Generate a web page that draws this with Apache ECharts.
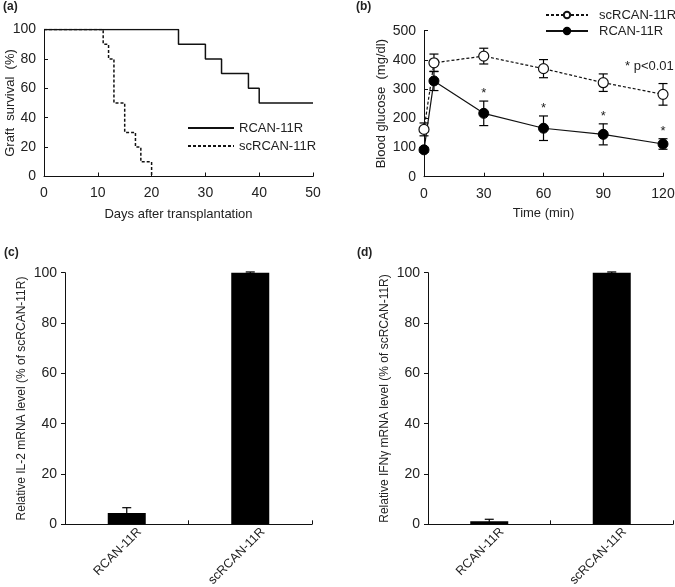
<!DOCTYPE html>
<html>
<head>
<meta charset="utf-8">
<script src="https://cdn.jsdelivr.net/npm/echarts@6/dist/echarts.min.js"></script>
<style>
html,body{margin:0;padding:0;background:#fff;}
#c{width:675px;height:587px;}
</style>
</head>
<body>
<div id="c"></div>
<script>
// (a) Kaplan-Meier graft survival
const daysRCAN = [0, 25, 30, 33, 38, 40, 50];
const survRCAN = [100, 90, 80, 70, 60, 50, 50];
const daysSc = [0, 11, 12, 13, 15, 17, 18, 20];
const survSc = [100, 90, 80, 50, 30, 20, 10, 0];

// (b) Blood glucose
const timeMin = [0, 5, 30, 60, 90, 120];
const glucSc = [162, 390, 413, 370, 322, 282];
const errSc = [22, 30, 27, 31, 30, 37];
const glucR = [92, 328, 217, 166, 145, 112];
const errR = [8, 33, 42, 42, 36, 18];
const sigR = ['', '', '*', '*', '*', '*'];

// (c), (d) relative mRNA levels
const categories = ['RCAN-11R', 'scRCAN-11R'];
const il2 = [4.5, 100];
const il2Err = [2.1, 0.3];
const ifn = [1.2, 100];
const ifnErr = [0.8, 0.3];

const FONT = "'Liberation Sans', Arial, sans-serif";
const TXT = '#222';

function pairs(xs, ys) { return xs.map((x, i) => [x, ys[i]]); }
function errData(xs, ys, es, sig) { return xs.map((x, i) => [x, ys[i], es[i], sig ? sig[i] : '']); }

function errRender(params, api) {
  const x = api.value(0), y = api.value(1), e = api.value(2);
  const s = api.value(3);
  const top = api.coord([x, y + e]), bot = api.coord([x, y - e]);
  const hw = 4.5;
  const st = {stroke: '#000', lineWidth: 1.2};
  const ch = [
    {type: 'line', shape: {x1: top[0], y1: top[1], x2: bot[0], y2: bot[1]}, style: st},
    {type: 'line', shape: {x1: top[0] - hw, y1: top[1], x2: top[0] + hw, y2: top[1]}, style: st},
    {type: 'line', shape: {x1: bot[0] - hw, y1: bot[1], x2: bot[0] + hw, y2: bot[1]}, style: st}
  ];
  if (s && s !== '' && s !== '-') {
    ch.push({type: 'text', style: {text: s, x: top[0], y: top[1] - 1, align: 'center', verticalAlign: 'bottom', fontSize: 13, fontFamily: FONT, fill: TXT}});
  }
  return {type: 'group', children: ch};
}

// rotated category labels, anchored through the category scale
function catLabelRender(params, api) {
  const p = api.coord([params.dataIndex, 0]);
  return {type: 'text', x: p[0] + 8, y: p[1] + 1, rotation: Math.PI / 4,
    style: {text: categories[params.dataIndex], align: 'right', verticalAlign: 'top', fontSize: 12.5, fontFamily: FONT, fill: TXT}};
}

const axisLine = {show: true, lineStyle: {color: '#111', width: 1}};
const axisLabel = {color: TXT, fontSize: 14, fontFamily: FONT};
const nameStyle = {color: TXT, fontSize: 13, fontFamily: FONT};

const chart = echarts.init(document.getElementById('c'), null, {renderer: 'canvas'});
const option = {
  animation: false,
  backgroundColor: '#fff',
  textStyle: {fontFamily: FONT},
  grid: [
    {left: 44, right: 362, top: 29.5, height: 147, outerBoundsMode: 'none', containLabel: false},
    {left: 424, right: 12, top: 30.7, height: 146, outerBoundsMode: 'none', containLabel: false},
    {left: 65, right: 363, top: 272.7, height: 251.6, outerBoundsMode: 'none', containLabel: false},
    {left: 428, right: 2, top: 272.7, height: 251.6, outerBoundsMode: 'none', containLabel: false}
  ],
  xAxis: [
    {gridIndex: 0, type: 'value', min: 0, max: 50, interval: 10, axisLine, axisLabel: Object.assign({margin: 10}, axisLabel),
     axisTick: {show: true, inside: true, length: 4, lineStyle: {color: '#111'}}, splitLine: {show: false},
     name: 'Days after transplantation', nameLocation: 'middle', nameGap: 31, nameMoveOverlap: false, nameTextStyle: nameStyle},
    {gridIndex: 1, type: 'value', min: 0, max: 120, interval: 30, axisLine, axisLabel: Object.assign({margin: 10}, axisLabel),
     axisTick: {show: true, inside: true, length: 4, lineStyle: {color: '#111'}}, splitLine: {show: false},
     name: 'Time (min)', nameLocation: 'middle', nameGap: 30, nameMoveOverlap: false, nameTextStyle: nameStyle},
    {gridIndex: 2, type: 'category', data: categories, boundaryGap: true, axisLine,
     axisLabel: {show: false},
     axisTick: {show: true, inside: true, length: 4, lineStyle: {color: '#111'}}},
    {gridIndex: 3, type: 'category', data: categories, boundaryGap: true, axisLine,
     axisLabel: {show: false},
     axisTick: {show: true, inside: true, length: 4, lineStyle: {color: '#111'}}}
  ],
  yAxis: [
    {gridIndex: 0, type: 'value', min: 0, max: 100, interval: 20, axisLine, axisLabel,
     axisTick: {show: true, inside: true, length: 4, lineStyle: {color: '#111'}}, splitLine: {show: false},
     name: 'Graft  survival  (%)', nameLocation: 'middle', nameGap: 27, nameMoveOverlap: false, nameTextStyle: nameStyle},
    {gridIndex: 1, type: 'value', min: 0, max: 500, interval: 100, axisLine, axisLabel,
     axisTick: {show: true, inside: true, length: 4, lineStyle: {color: '#111'}}, splitLine: {show: false},
     name: 'Blood glucose  (mg/dl)', nameLocation: 'middle', nameGap: 36, nameMoveOverlap: false, nameTextStyle: nameStyle},
    {gridIndex: 2, type: 'value', min: 0, max: 100, interval: 20, axisLine, axisLabel,
     axisTick: {show: true, inside: false, length: 4, lineStyle: {color: '#111'}}, splitLine: {show: false},
     name: 'Relative IL-2 mRNA level (% of scRCAN-11R)', nameLocation: 'middle', nameGap: 37, nameMoveOverlap: false,
     nameTextStyle: Object.assign({}, nameStyle, {fontSize: 12})},
    {gridIndex: 3, type: 'value', min: 0, max: 100, interval: 20, axisLine, axisLabel,
     axisTick: {show: true, inside: false, length: 4, lineStyle: {color: '#111'}}, splitLine: {show: false},
     name: 'Relative IFNγ mRNA level (% of scRCAN-11R)', nameLocation: 'middle', nameGap: 37, nameMoveOverlap: false,
     nameTextStyle: Object.assign({}, nameStyle, {fontSize: 12})}
  ],
  legend: [
    {data: ['a|RCAN-11R', 'a|scRCAN-11R'], left: 187, top: 120, padding: 0, orient: 'vertical', itemWidth: 46, itemHeight: 12, itemGap: 2,
     itemStyle: {opacity: 0, borderWidth: 0},
     formatter: n => n.split('|')[1], textStyle: {color: TXT, fontSize: 13, lineHeight: 16, fontFamily: FONT}, selectedMode: false},
    {data: ['b|scRCAN-11R', 'b|RCAN-11R'], left: 545, top: 7, padding: 0, orient: 'vertical', itemWidth: 42, itemHeight: 8, itemGap: 0,
     formatter: n => n.split('|')[1], textStyle: {color: TXT, fontSize: 13, lineHeight: 16, fontFamily: FONT, padding: [0, 0, 0, 6]}, selectedMode: false}
  ],
  graphic: [
    {type: 'text', left: 3, top: 1, style: {text: '(a)', font: "bold 12px " + FONT, fill: TXT}},
    {type: 'text', left: 356, top: 1, style: {text: '(b)', font: "bold 12px " + FONT, fill: TXT}},
    {type: 'text', left: 4, top: 247, style: {text: '(c)', font: "bold 12px " + FONT, fill: TXT}},
    {type: 'text', left: 357, top: 247, style: {text: '(d)', font: "bold 12px " + FONT, fill: TXT}},
    {type: 'text', left: 625, top: 60, style: {text: '* p<0.01', font: "13px " + FONT, fill: TXT}}
  ],
  series: [
    {name: 'a|RCAN-11R', type: 'line', xAxisIndex: 0, yAxisIndex: 0, step: 'end', data: pairs(daysRCAN, survRCAN),
     symbol: 'none', lineStyle: {color: '#111', width: 1.5}, itemStyle: {color: '#111'}},
    {name: 'a|scRCAN-11R', type: 'line', xAxisIndex: 0, yAxisIndex: 0, step: 'end', data: pairs(daysSc, survSc),
     symbol: 'none', lineStyle: {color: '#111', width: 1.5, type: [3, 2]}, itemStyle: {color: '#111'}},
    {type: 'custom', xAxisIndex: 1, yAxisIndex: 1, renderItem: errRender, data: errData(timeMin, glucSc, errSc), z: 1, clip: false},
    {type: 'custom', xAxisIndex: 1, yAxisIndex: 1, renderItem: errRender, data: errData(timeMin, glucR, errR, sigR), z: 1, clip: false},
    {name: 'b|scRCAN-11R', type: 'line', xAxisIndex: 1, yAxisIndex: 1, data: pairs(timeMin, glucSc), z: 3,
     symbol: 'circle', symbolSize: 10, showSymbol: true, clip: false,
     lineStyle: {color: '#111', width: 1.2, type: [3, 2]}, itemStyle: {color: '#fff', borderColor: '#111', borderWidth: 1.2}},
    {name: 'b|RCAN-11R', type: 'line', xAxisIndex: 1, yAxisIndex: 1, data: pairs(timeMin, glucR), z: 3,
     symbol: 'circle', symbolSize: 10, showSymbol: true, clip: false,
     lineStyle: {color: '#111', width: 1.2}, itemStyle: {color: '#000', borderColor: '#000', borderWidth: 1}},
    {type: 'bar', xAxisIndex: 2, yAxisIndex: 2, data: il2, barWidth: 38, itemStyle: {color: '#000'}},
    {type: 'custom', xAxisIndex: 2, yAxisIndex: 2, renderItem: errRender, data: il2.map((v, i) => [i, v, il2Err[i], '']), z: 3},
    {type: 'custom', xAxisIndex: 2, yAxisIndex: 2, renderItem: catLabelRender, data: categories.map((c, i) => [i, 0]), clip: false, silent: true},
    {type: 'bar', xAxisIndex: 3, yAxisIndex: 3, data: ifn, barWidth: 38, itemStyle: {color: '#000'}},
    {type: 'custom', xAxisIndex: 3, yAxisIndex: 3, renderItem: errRender, data: ifn.map((v, i) => [i, v, ifnErr[i], '']), z: 3},
    {type: 'custom', xAxisIndex: 3, yAxisIndex: 3, renderItem: catLabelRender, data: categories.map((c, i) => [i, 0]), clip: false, silent: true}
  ]
};
chart.setOption(option);
</script>
</body>
</html>
